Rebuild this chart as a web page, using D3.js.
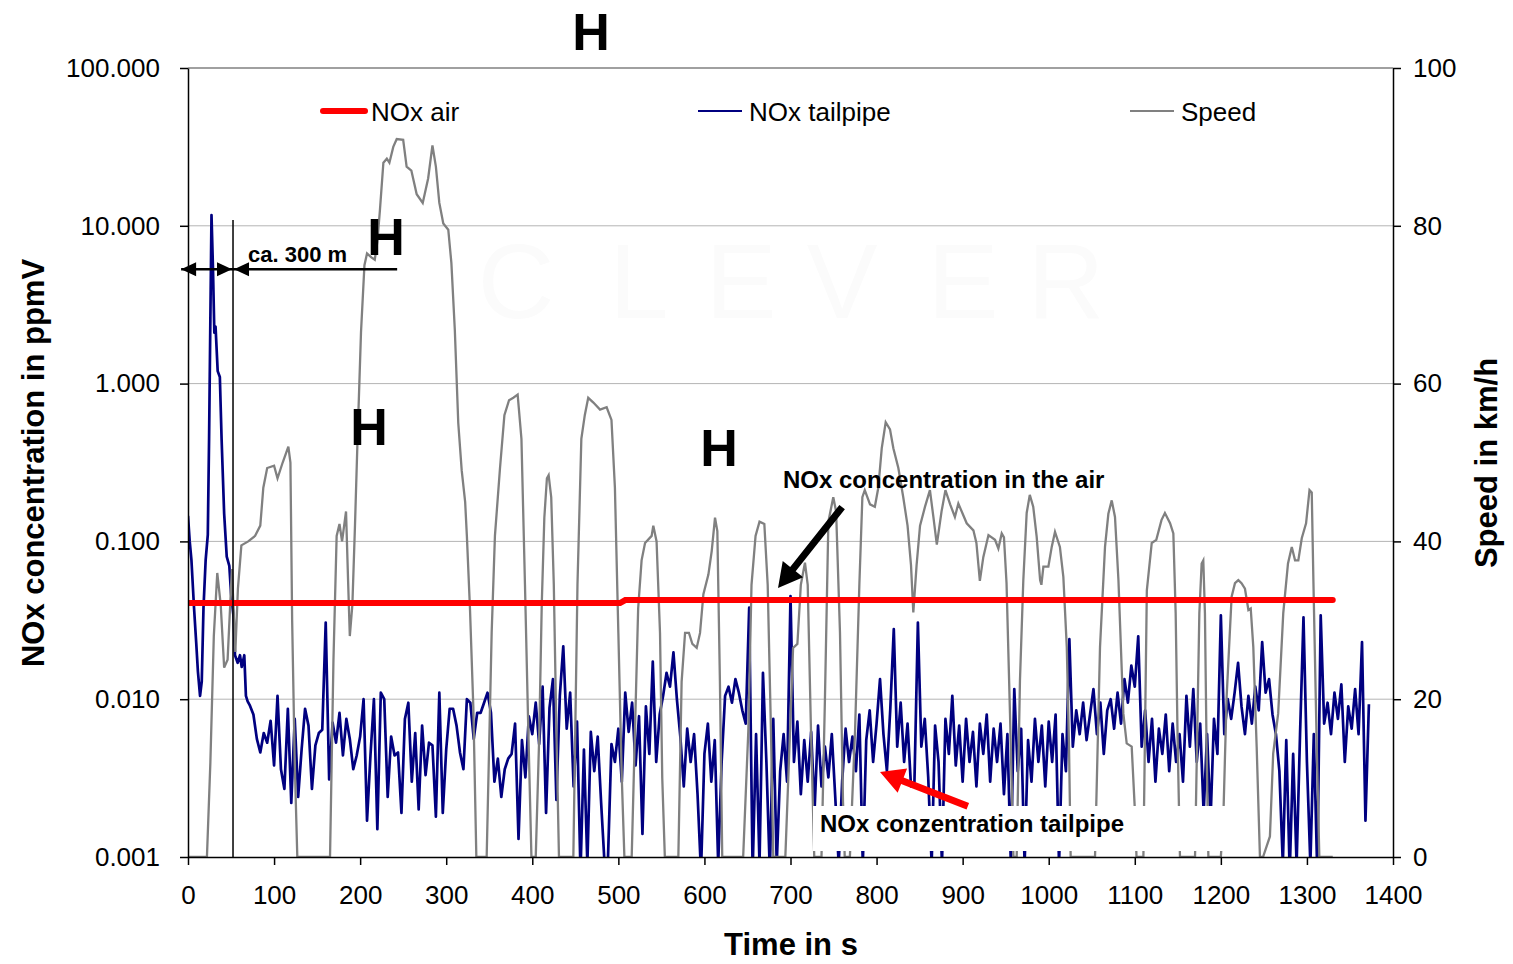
<!DOCTYPE html>
<html>
<head>
<meta charset="utf-8">
<title>NOx tailpipe / air and speed</title>
<style>
    body { margin: 0; background: #fff; }
    svg text { font-family: "Liberation Sans", Arial, sans-serif; }
</style>
</head>
<body>
<script src="https://d3js.org/d3.v7.min.js"></script>
<script>
// ---- data ----
var timeTicks = [0, 100, 200, 300, 400, 500, 600, 700, 800, 900, 1000, 1100, 1200, 1300, 1400];
var noxTicks = [0.001, 0.01, 0.1, 1, 10, 100];
var noxTickLabels = ["0.001", "0.010", "0.100", "1.000", "10.000", "100.000"];
var speedTicks = [0, 20, 40, 60, 80, 100];
var speedTickLabels = ["0", "20", "40", "60", "80", "100"];
var seriesNames = ["NOx air", "NOx tailpipe", "Speed"];

// NOx in the air (ppmV), [time s, value]
var noxAir = [[0, 0.0407], [502, 0.0407], [508, 0.0425], [1330, 0.0425]];

// NOx tailpipe, start-up peak [time s, ppmV]
var tailStart = [[0, 0.145], [2, 0.10], [4, 0.076], [7, 0.038], [9.5, 0.023], [11.5, 0.015], [14, 0.0105],
    [16, 0.013], [18, 0.038], [20.5, 0.076], [23, 0.11], [24.5, 0.45], [26, 2.6], [27.3, 11.7], [29, 5.4],
    [30.6, 2.1], [32, 2.3], [34.5, 1.2], [37, 1.1], [39, 0.45], [42, 0.15], [45, 0.08], [48, 0.07], [50, 0.047],
    [53, 0.033], [54.6, 0.019], [57.7, 0.017], [60.4, 0.019], [62.4, 0.016], [65.4, 0.019], [67.3, 0.0105], [69.3, 0.0097]];

// NOx tailpipe afterwards, one reading every 4 s from 72 s (ppmV)
var noiseStart = 72, noiseStep = 4;
var tailNoise = [
    .0091,.0080,.0056,.0046,.0061,.0053,.0073,.0038,.0105,.0036,
    .0027,.0087,.0022,.0075,.0024,.0048,.0087,.0068,.0027,.0051,
    .0061,.0064,.0306,.0031,.0071,.0053,.0082,.0044,.0075,.0056,
    .0036,.0044,.0058,.0100,.0017,.0044,.0100,.0015,.0110,.0100,
    .0024,.0058,.0044,.0046,.0019,.0075,.0095,.0030,.0061,.0020,
    .0068,.0033,.0053,.0051,.0018,.0110,.0019,.0048,.0087,.0087,
    .0068,.0046,.0036,.0100,.0095,.0056,.0082,.0082,.0095,.0110,
    .0082,.0030,.0042,.0024,.0036,.0042,
    .0045,.0070,.0013,.0055,.0032,.0078,.0060,.0095,.0052,.0120,
    .0019,.0088,.0134,.0023,.0105,.0216,.0065,.0110,.0028,.0072,
    .0008,.0048,.0009,.0062,.0035,.0058,.0022,.0009,.0010,.0052,
    .0040,.0065,.0030,.0110,.0062,.0095,.0038,.0078,.0014,.0090,
    .0045,.0173,.0040,.0080,.0105,.0147,.0120,.0198,.0100,.0058,
    .0028,.0065,.0040,.0060,.0025,.0008,.0045,.0070,.0030,.0055,
    .0009,.0040,.0105,.0120,.0095,.0134,.0110,.0085,.0070,.0380,
    .0008,.0060,.0009,.0147,.0040,.0008,.0075,.0009,.0035,.0060,
    .0030,.0450,.0040,.0072,.0025,.0055,.0030,.0062,.0020,.0068,
    .0028,.0050,.0032,.0060,.0024,.0009,.0030,.0065,.0040,.0058,
    .0035,.0080,.0009,.0055,.0085,.0040,.0070,.0134,
    .0060,.0035,.0088,.0278,.0050,.0095,.0040,.0070,.0028,.0030,
    .0306,.0050,.0075,.0032,.0009,.0068,.0040,.0009,.0075,.0045,
    .0105,.0038,.0068,.0030,.0075,.0040,.0062,.0028,.0070,.0045,
    .0080,.0030,.0065,.0040,.0070,.0025,.0060,.0009,.0116,.0035,
    .0065,.0009,.0055,.0030,.0075,.0040,.0068,.0028,.0072,.0040,
    .0080,.0009,.0060,.0035,.0240,.0050,.0085,.0060,.0095,.0055,
    .0080,.0116,.0060,.0095,.0045,.0085,.0100,.0065,.0110,.0070,
    .0134,.0095,.0163,.0120,.0250,.0050,.0085,.0040,.0075,.0030,
    .0065,.0045,.0080,.0035,.0070,.0040,.0060,.0030,.0105,.0050,
    .0116,.0040,.0070,.0019,.0060,.0017,.0075,.0045,.0340,.0060,
    .0100,.0075,.0110,.0170,.0090,.0060,.0105,.0070,.0120,.0085,
    .0230,.0110,.0134,.0080,.0060,.0035,.0009,.0055,.0008,.0045,
    .0009,.0060,.0330,.0040,.0009,.0060,.0008,.0340,.0070,.0095,
    .0060,.0110,.0075,.0124,.0040,.0090,.0065,.0116,.0060,.0230,
    .0017,.0093
];

// vehicle speed (km/h), [time s, value]
var speed = [[0,0],[20,0],[22,0],[26,12],[30,28],[34,36],[38,32],[42,24],[46,25],[51,36.5],[55,26],[58,34],[62,39.5],
    [70,40],[78,40.7],[84,42],[87.5,46.8],[92,49.3],[100,49.6],[104,48],[110,50],[116.6,52],[119,50],[121,30],[124,12],[127,0],
    [165,0],[169,25],[172.7,40.7],[176,42.2],[179,40],[183.6,43.8],[186,35],[188,28],[191,32],[194,42],[197,53],[201,66.5],
    [205,75],[208,76.5],[213,76],[217,75.7],[220,78],[223,82],[227,88],[231,88.5],[234,88],[238.5,90],[242.5,91],[250,90.9],
    [254,87.5],[259.5,87],[265.7,84],[272.7,82.9],[279,86],[284,90.2],[288,87.5],[292,82.9],[296.6,80.3],[302.4,79.5],
    [306,75.3],[310,66.8],[314,55],[318,49],[322,45],[324,40.7],[327.6,31.5],[331.5,19],[335,0],
    [347,0],[352.8,28.4],[356.6,40.7],[362.5,49.3],[367.6,56],[373,57.9],[378,58.2],[383,58.6],[387.4,53],[391.5,34.5],[395.4,16],[399,0],
    [404,0],[408,15],[411,32],[414,43],[417,48],[419,48.4],[422,45.6],[425,34.5],[428,16],[431,0],
    [447.7,0],[452.5,34.5],[457,53],[461,56],[465,58.2],[471,57.6],[478.7,56.7],[486.4,57],[492,55.4],[496,46.8],[500,28.4],[504,10],[507,0],
    [515.5,0],[519.3,16],[523,31.5],[527,37.6],[531,39.8],[538.7,40.7],[540.6,42],[544.4,40],[548.4,28.4],[551,10],[554,0],
    [569.7,0],[573.5,22.2],[577.5,28.4],[582,28.4],[586,27],[591,26.5],[594.9,28.4],[598.8,33.3],[604.6,35.8],[608.5,38.8],[612.3,43],[615,41.3],[618,22.2],[620.7,0],
    [645,0],[651,16],[654.7,34.5],[659.4,40.7],[664,42.5],[669.6,42.2],[673.5,34.5],[677.3,16],[680,0],
    [694,0],[699.5,16],[703,26.5],[708,27],[712,34.5],[716.8,37.3],[720,34.5],[723.8,16],[727.6,0],
    [736,0],[740,20],[744,42.5],[749.7,45.6],[753,43.8],[757.5,28.4],[761,7],[763,0],
    [769,0],[775,16],[780,34.5],[783.5,45.6],[786.3,46.5],[792.4,44.7],[798,44.4],[802,46.8],[806,51.8],[810.6,55.1],[815.6,54.2],
    [819.5,51.8],[825.3,49.3],[831,45.6],[836,42],[840,37],[842.7,31],[846.5,37],[850.5,42],[856.3,44.4],[862,46.5],[866,43.1],
    [870,39.6],[875.5,43.8],[880,46.5],[885.5,44.7],[891,43.1],[895,44.8],[904.7,42.3],[912.5,41.4],[916,39.8],[920,35],[924,38],
    [930,40.8],[937.6,40.2],[941.5,39.1],[945.4,41],[948,40.5],[951,34.7],[955,18.2],[959,0],
    [962.8,0],[966.6,22.4],[970.5,35.1],[974.4,43.6],[978,45.9],[982,44.4],[986,40.6],[990,35.1],[991.5,34.5],[993.8,36.8],[999.6,36.8],
    [1003.5,39.3],[1007.3,41.2],[1013,39.3],[1017,35.5],[1021,26.6],[1023.6,14],[1025.5,0],
    [1053.8,0],[1059.6,26.6],[1065.4,39.3],[1069.3,43.5],[1073.2,45.2],[1077,43.1],[1081,35.1],[1086.7,18.2],[1090.6,14.4],[1096.4,14],[1100.3,5.5],[1102,0],
    [1110,0],[1114,33.8],[1119.7,39.8],[1125,40.2],[1131,42.7],[1135,43.6],[1141,42.3],[1144.8,41],[1147.5,30.9],[1149.9,14],[1152.5,0],
    [1170,0],[1175,30.9],[1177.7,37.2],[1179.6,37.6],[1181.5,30.9],[1183.4,14],[1185.5,0],
    [1200,0],[1203,5.5],[1206.7,20.3],[1212.5,33],[1216.4,34.7],[1220.3,35.1],[1224,34.7],[1228,34],[1232,31.3],[1234.7,31.5],[1237.7,26.6],[1241.6,14],[1245.4,0],
    [1249,0],[1257,2.6],[1260.8,13.1],[1266.6,18.2],[1272.5,30.9],[1278,37.2],[1282.4,39.3],[1286.2,37.6],[1290,37.6],[1294,40.4],
    [1299,42.3],[1303,46.5],[1305.6,46.2],[1307.5,35.1],[1311.4,14],[1314.4,0],[1330,0]];

// ---- layout ----
var width = 1513, height = 964;
var plotLeft = 188, plotRight = 1393, plotTop = 68, plotBottom = 857;
var font = '"Liberation Sans", Arial, sans-serif';

var svg = d3.select('body').append('svg')
    .attr('width', width)
    .attr('height', height);

var x = d3.scaleLinear().domain([0, 1400]).range([plotLeft, plotRight]);
var yNox = d3.scaleLog().domain([0.001, 100]).range([plotBottom, plotTop]);
var ySpeed = d3.scaleLinear().domain([0, 100]).range([plotBottom, plotTop]);

// faint watermark
var mark = ["C", "L", "E", "V", "E", "R"];
var markX = [516, 639, 741, 842, 963, 1066];
svg.selectAll('text.mark')
    .data(mark)
    .enter()
    .append('text')
    .attr('class', 'mark')
    .attr('x', function(d, i) { return markX[i]; })
    .attr('y', 318)
    .attr('text-anchor', 'middle')
    .attr('font-size', 106)
    .attr('fill', '#fbfbfb')
    .text(function(d) { return d; });

// grid lines
svg.append('g')
    .selectAll('line')
    .data([0.01, 0.1, 1, 10])
    .enter()
    .append('line')
    .attr('x1', plotLeft).attr('x2', plotRight)
    .attr('y1', function(d) { return yNox(d); })
    .attr('y2', function(d) { return yNox(d); })
    .attr('stroke', '#b4b4b4')
    .attr('stroke-width', 1);

svg.append('line')
    .attr('x1', plotLeft).attr('x2', plotRight)
    .attr('y1', yNox(100)).attr('y2', yNox(100))
    .attr('stroke', '#808080')
    .attr('stroke-width', 1.5);

// clip for the series
svg.append('clipPath').attr('id', 'plot')
    .append('rect')
    .attr('x', plotLeft).attr('y', plotTop)
    .attr('width', plotRight - plotLeft).attr('height', plotBottom - plotTop);

var tailData = tailStart.concat(tailNoise.map(function(v, i) {
    return [noiseStart + i * noiseStep, v];
}));

var noxLine = d3.line()
    .x(function(d) { return x(d[0]); })
    .y(function(d) { return yNox(d[1]); });

var speedLine = d3.line()
    .x(function(d) { return x(d[0]); })
    .y(function(d) { return ySpeed(d[1]); });

var series = svg.append('g').attr('clip-path', 'url(#plot)');

series.append('path')
    .datum(tailData)
    .attr('d', noxLine)
    .attr('fill', 'none')
    .attr('stroke', '#000080')
    .attr('stroke-width', 2.7)
    .attr('stroke-linejoin', 'round');

series.append('path')
    .datum(speed)
    .attr('d', speedLine)
    .attr('fill', 'none')
    .attr('stroke', '#808080')
    .attr('stroke-width', 2.3);

series.append('path')
    .datum(noxAir)
    .attr('d', noxLine)
    .attr('fill', 'none')
    .attr('stroke', '#ff0000')
    .attr('stroke-width', 6)
    .attr('stroke-linecap', 'round');

// axes
function styleAxis(g) {
    g.attr('font-size', 26).attr('font-family', font);
    g.select('.domain').attr('stroke', '#000').attr('stroke-width', 1.5);
    g.selectAll('.tick line').attr('stroke', '#000').attr('stroke-width', 1.5);
    g.selectAll('.tick text').attr('fill', '#000');
}

svg.append('g')
    .attr('transform', 'translate(' + plotLeft + ',0)')
    .call(d3.axisLeft(yNox)
        .tickValues(noxTicks)
        .tickFormat(function(d, i) { return noxTickLabels[i]; })
        .tickSize(8).tickSizeOuter(0).tickPadding(20))
    .call(styleAxis);

svg.append('g')
    .attr('transform', 'translate(' + plotRight + ',0)')
    .call(d3.axisRight(ySpeed)
        .tickValues(speedTicks)
        .tickFormat(function(d, i) { return speedTickLabels[i]; })
        .tickSize(8).tickSizeOuter(0).tickPadding(12))
    .call(styleAxis);

svg.append('g')
    .attr('transform', 'translate(0,' + plotBottom + ')')
    .call(d3.axisBottom(x)
        .tickValues(timeTicks)
        .tickFormat(d3.format('d'))
        .tickSize(8).tickSizeOuter(0).tickPadding(21))
    .call(styleAxis);

// axis titles
svg.append('text')
    .attr('transform', 'translate(44,463) rotate(-90)')
    .attr('text-anchor', 'middle')
    .attr('font-size', 31).attr('font-weight', 'bold')
    .text('NOx concentration in ppmV');

svg.append('text')
    .attr('transform', 'translate(1497,463) rotate(-90)')
    .attr('text-anchor', 'middle')
    .attr('font-size', 31).attr('font-weight', 'bold')
    .text('Speed in km/h');

svg.append('text')
    .attr('x', 791).attr('y', 955)
    .attr('text-anchor', 'middle')
    .attr('font-size', 31).attr('font-weight', 'bold')
    .text('Time in s');

// legend
var legendX = [320, 698, 1130];
var legendColor = ['#ff0000', '#000080', '#808080'];
var legendWidth = [6, 2, 2];
var legend = svg.append('g');
seriesNames.forEach(function(name, i) {
    legend.append('line')
        .attr('x1', legendX[i] + (i === 0 ? 3 : 0)).attr('x2', legendX[i] + (i === 0 ? 45 : 44))
        .attr('y1', 111).attr('y2', 111)
        .attr('stroke', legendColor[i])
        .attr('stroke-width', legendWidth[i])
        .attr('stroke-linecap', i === 0 ? 'round' : 'butt');
    legend.append('text')
        .attr('x', legendX[i] + 51).attr('y', 121)
        .attr('font-size', 26)
        .text(name);
});

// annotations
function arrowPath(x1, y1, x2, y2, shaft, headLen, headHalf) {
    var a = Math.atan2(y2 - y1, x2 - x1);
    var ux = Math.cos(a), uy = Math.sin(a), px = -uy, py = ux;
    var bx = x2 - ux * headLen, by = y2 - uy * headLen;
    var s = shaft / 2;
    return 'M' + (x1 + px * s) + ',' + (y1 + py * s) +
        'L' + (bx + px * s) + ',' + (by + py * s) +
        'L' + (bx + px * headHalf) + ',' + (by + py * headHalf) +
        'L' + x2 + ',' + y2 +
        'L' + (bx - px * headHalf) + ',' + (by - py * headHalf) +
        'L' + (bx - px * s) + ',' + (by - py * s) +
        'L' + (x1 - px * s) + ',' + (y1 - py * s) + 'Z';
}

// white box behind the tailpipe label
svg.append('rect')
    .attr('x', 813).attr('y', 806)
    .attr('width', 431).attr('height', 45)
    .attr('fill', '#fff');

svg.append('text')
    .attr('x', 820).attr('y', 832)
    .attr('font-size', 24).attr('font-weight', 'bold')
    .text('NOx conzentration tailpipe');

svg.append('text')
    .attr('x', 783).attr('y', 488)
    .attr('font-size', 24).attr('font-weight', 'bold')
    .text('NOx concentration in the air');

// black arrow to the air line, red arrow to the tailpipe line
svg.append('path')
    .attr('d', arrowPath(x(760), yNox(0.165), x(685.5), yNox(0.0507), 7, 24, 13))
    .attr('fill', '#000');

svg.append('path')
    .attr('d', arrowPath(x(906), yNox(0.0021), x(804), yNox(0.00346), 7, 24, 13))
    .attr('fill', '#ff0000');

// 300 m marker
var markT = 52.3;
svg.append('line')
    .attr('x1', x(markT)).attr('x2', x(markT))
    .attr('y1', yNox(10.9)).attr('y2', plotBottom)
    .attr('stroke', '#000').attr('stroke-width', 1.5);

var dimY = yNox(5.3);
svg.append('line')
    .attr('x1', x(-8)).attr('x2', x(243))
    .attr('y1', dimY).attr('y2', dimY)
    .attr('stroke', '#000').attr('stroke-width', 2.5);
svg.append('path')
    .attr('d', arrowPath(x(-8) + 15, dimY, x(-8), dimY, 0, 15, 7) +
        arrowPath(x(markT) - 15, dimY, x(markT) - 1, dimY, 0, 15, 7) +
        arrowPath(x(markT) + 15, dimY, x(markT) + 1, dimY, 0, 15, 7))
    .attr('fill', '#000');

svg.append('text')
    .attr('x', 248).attr('y', 262)
    .attr('font-size', 22).attr('font-weight', 'bold')
    .text('ca. 300 m');

// "H" marks
var hX = [591, 386, 369, 719];
var hY = [50, 255, 445, 466];
svg.selectAll('text.h')
    .data(hX)
    .enter()
    .append('text')
    .attr('class', 'h')
    .attr('x', function(d) { return d; })
    .attr('y', function(d, i) { return hY[i]; })
    .attr('text-anchor', 'middle')
    .attr('font-size', 52)
    .attr('font-weight', 'bold')
    .text('H');
</script>
</body>
</html>
